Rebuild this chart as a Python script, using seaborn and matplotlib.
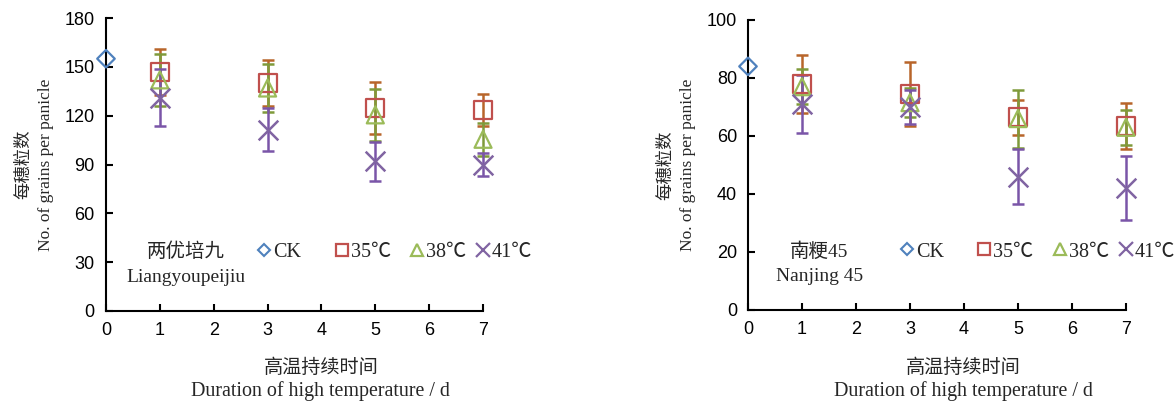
import numpy as np
import pandas as pd
import matplotlib
matplotlib.use("Agg")
import matplotlib.pyplot as plt
import matplotlib.transforms as mtransforms
import seaborn as sns
from matplotlib.lines import Line2D

# 数据
days = [1, 3, 5, 7]
temps = ["35℃", "38℃", "41℃"]

# 两优培九 Liangyoupeijiu
ck_lypj = 155
lypj_35 = [147, 140, 124.5, 123.5]
lypj_35_err = [14, 14, 16, 10]
lypj_38 = [142, 137, 120.5, 105.5]
lypj_38_err = [16, 15, 16, 10]
lypj_41 = [131, 111.5, 92, 90]
lypj_41_err = [17.5, 13, 12, 7]

# 南粳45 Nanjing 45
ck_nj = 84
nj_35 = [78, 74.5, 66.5, 63.5]
nj_35_err = [10, 11, 6, 8]
nj_38 = [77, 71.5, 66, 63]
nj_38_err = [6, 5, 10, 6]
nj_41 = [71, 70, 46, 42]
nj_41_err = [10, 6, 9.5, 11]

serif = ["Liberation Serif", "Noto Sans CJK SC"]

sns.set_theme(style="ticks")
plt.rcParams["font.family"] = ["Liberation Sans", "Noto Sans CJK SC"]
plt.rcParams["axes.unicode_minus"] = False

ck_color = "#4f81bd"
styles = {
    "35℃": dict(marker="s", color="#c0504d", ecolor="#b8652a", s=170),
    "38℃": dict(marker="^", color="#9bbb59", ecolor="#7f9a3a", s=150),
    "41℃": dict(marker="x", color="#8064a2", ecolor="#7a55a8", s=200),
}


def make_df(vals, errs):
    rows = []
    for t, v, e in zip(temps, vals, errs):
        for d, vv, ee in zip(days, v, e):
            rows.append({"day": d, "temp": t, "value": vv, "err": ee})
    return pd.DataFrame(rows)


def draw_panel(fig, ax, df, ck, ymax, ystep, name_cn, name_en, name_x):
    # CK
    sns.scatterplot(x=[0], y=[ck], marker="D", s=80, facecolor="none",
                    edgecolor=ck_color, linewidth=1.6, ax=ax, clip_on=False, zorder=5)
    for t in temps:
        st = styles[t]
        sub = df[df["temp"] == t]
        eb = ax.errorbar(sub["day"], sub["value"], yerr=sub["err"], fmt="none",
                         ecolor=st["ecolor"], elinewidth=1.8, capsize=4.3, capthick=1.8, zorder=3)
        for art in eb.get_children():
            art.set_clip_on(False)
        if st["marker"] == "x":
            sns.scatterplot(data=sub, x="day", y="value", marker="x", s=st["s"],
                            color=st["color"], linewidth=1.8, ax=ax, zorder=4, clip_on=False)
        else:
            sns.scatterplot(data=sub, x="day", y="value", marker=st["marker"], s=st["s"],
                            facecolor="none", edgecolor=st["color"], linewidth=1.6,
                            ax=ax, zorder=4, clip_on=False)

    ax.set_xlim(0, 7)
    ax.set_ylim(0, ymax)
    ax.set_xticks(range(0, 8))
    ax.set_yticks(np.arange(0, ymax + 1, ystep))
    ax.set_xlabel("")
    sns.despine(ax=ax)
    for sp in ["left", "bottom"]:
        ax.spines[sp].set_linewidth(1.5)
        ax.spines[sp].set_color("black")
    ax.tick_params(direction="in", length=5, width=1.5, labelsize=13, pad=8, colors="black")
    ax.set_ylabel("每穗粒数\nNo. of grains per panicle", family=serif,
                  fontsize=12.5, linespacing=1.45, labelpad=8)

    # x 轴标题（略偏右，与原图一致）
    tr = mtransforms.blended_transform_factory(ax.transAxes, fig.transFigure)
    ax.text(0.57, 0.087, "高温持续时间", transform=tr, family=serif,
            fontsize=13.8, ha="center", va="center")
    ax.text(0.57, 0.030, "Duration of high temperature / d", transform=tr, family=serif,
            fontsize=14.4, ha="center", va="center")

    ax.text(name_x, 0.16, name_cn + "\n" + name_en, transform=ax.transAxes,
            family=serif, fontsize=14, ha="center", va="center", linespacing=1.6)

    # 图例：每一项单独定位
    handles = [Line2D([], [], marker="D", ls="none", mfc="none", mec=ck_color, ms=6.5, mew=1.5)]
    handles += [Line2D([], [], marker=styles[t]["marker"], ls="none",
                       mfc="none", mec=styles[t]["color"], ms=9 if t != "41℃" else 10, mew=1.6)
                for t in temps]
    labels = ["CK"] + temps
    leg_pos = [0.42, 0.625, 0.826, 1.0]
    fs = 14.5
    half_handle = 0.6 * fs / 2 * 100 / 72 / (ax.get_position().width * fig.get_figwidth() * 100)
    for h, lab, px in zip(handles, labels, leg_pos):
        leg = ax.legend([h], [lab], loc="center left",
                        bbox_to_anchor=(px - half_handle, 0.20), frameon=False,
                        borderpad=0, borderaxespad=0, handlelength=0.6, handletextpad=0.15,
                        prop={"family": serif, "size": fs})
        ax.add_artist(leg)
    ax.legend_ = None


fig = plt.figure(figsize=(11.75, 4.03), dpi=100)
ax1 = fig.add_axes([0.0902, 0.2283, 0.3209, 0.7270])
ax2 = fig.add_axes([0.6366, 0.2308, 0.3217, 0.7196])

draw_panel(fig, ax1, make_df([lypj_35, lypj_38, lypj_41], [lypj_35_err, lypj_38_err, lypj_41_err]),
           ck_lypj, 180, 30, "两优培九", "Liangyoupeijiu", 0.212)
draw_panel(fig, ax2, make_df([nj_35, nj_38, nj_41], [nj_35_err, nj_38_err, nj_41_err]),
           ck_nj, 100, 20, "南粳45", "Nanjing 45", 0.188)

fig.savefig("out.png", dpi=100)
